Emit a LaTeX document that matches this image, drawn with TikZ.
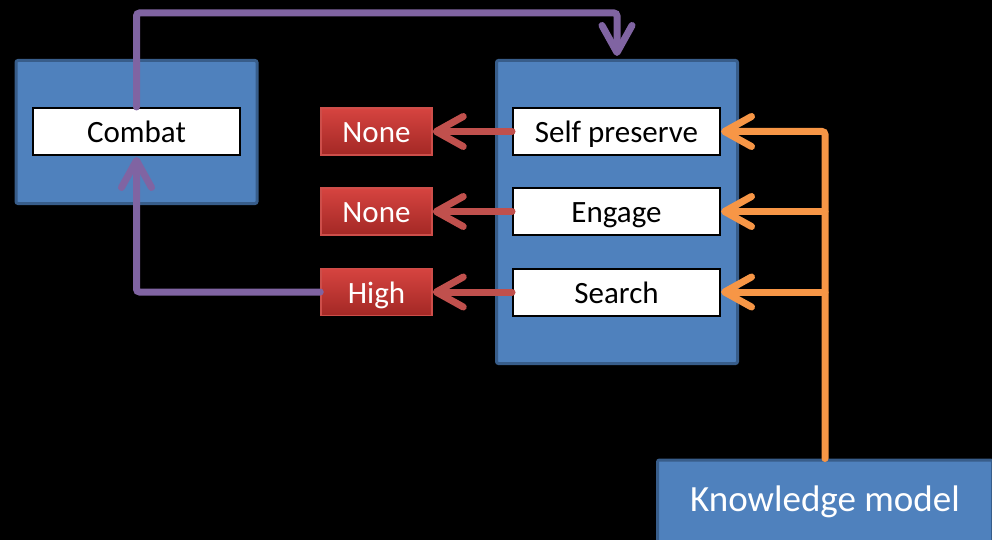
\documentclass[tikz,border=0pt]{standalone}
\usepackage{fontspec}
\setmainfont{Carlito}
\usetikzlibrary{arrows.meta}

\definecolor{boxblue}{RGB}{79,129,189}
\definecolor{boxedge}{RGB}{56,93,138}
\definecolor{redtop}{RGB}{214,68,64}
\definecolor{redbot}{RGB}{163,40,37}
\definecolor{rededge}{RGB}{205,78,74}
\definecolor{arrowred}{RGB}{192,80,77}
\definecolor{purp}{RGB}{128,100,162}
\definecolor{orng}{RGB}{247,150,70}

\tikzset{
  panel/.style={draw=boxedge, line width=3pt, fill=boxblue, rounded corners=2pt, inner sep=0pt},
  boxtext/.style={font=\fontsize{31}{36}\selectfont, text height=22pt, text depth=0pt},
  item/.style={boxtext, draw=black, line width=2pt, fill=white, minimum width=207pt,
    minimum height=47pt, inner sep=0pt},
  level/.style={boxtext, draw=rededge, line width=1.5pt, top color=redtop, bottom color=redbot,
    minimum width=111pt, minimum height=47pt, inner sep=0pt, text=white},
  tipbarb/.tip={Straight Barb[length=27pt,width=30pt,round]},
  link/.style={line width=7pt, line cap=round, rounded corners=3pt, -tipbarb},
  redlink/.style={link, draw=arrowred},
  purplelink/.style={link, draw=purp},
  orangelink/.style={link, draw=orng},
}

\begin{document}
\begin{tikzpicture}[x=1pt, y=-1pt]
  \fill[black] (0,0) rectangle (992,540);
  \useasboundingbox (0,0) rectangle (992,540);

  % outer panels
  \node[panel, minimum width=241pt, minimum height=143pt] (combatpanel) at (136.5,132) {};
  \node[panel, minimum width=241pt, minimum height=303pt] (mid) at (617,212) {};
  \node[panel, minimum width=335pt, minimum height=100pt] (km) at (825,510) {};
  \node[text=white, font=\fontsize{37}{42}\selectfont, text height=23.5pt, text depth=0pt,
    inner sep=0pt] (kmlabel) at (825,500) {Knowledge model};

  % behaviours
  \node[item] (combat) at (136.5,131.5) {Combat};
  \node[item] (self)   at (616.5,131.5) {Self preserve};
  \node[item] (engage) at (616.5,211.5) {Engage};
  \node[item] (search) at (616.5,292)   {Search};

  % priority levels
  \node[level] (none1) at (376.5,131.5) {None};
  \node[level] (none2) at (376.5,211.5) {None};
  \node[level] (high)  at (376.5,292)   {High};

  % outputs to levels
  \draw[redlink] (self.west)   -- (none1.east);
  \draw[redlink] (engage.west) -- (none2.east);
  \draw[redlink] (search.west) -- (high.east);

  % feedback loop
  \coordinate (topline) at (0,13);
  \draw[purplelink, shorten >=3pt] (combat.north) -- (combat.north |- topline) -| (mid.north);
  \draw[purplelink, shorten >=1pt] (high.west) -| (combat.south);

  % knowledge inputs
  \draw[orangelink] (km.north) |- (self.east);
  \draw[orangelink] (km.north |- engage.east) -- (engage.east);
  \draw[orangelink] (km.north |- search.east) -- (search.east);
\end{tikzpicture}
\end{document}
